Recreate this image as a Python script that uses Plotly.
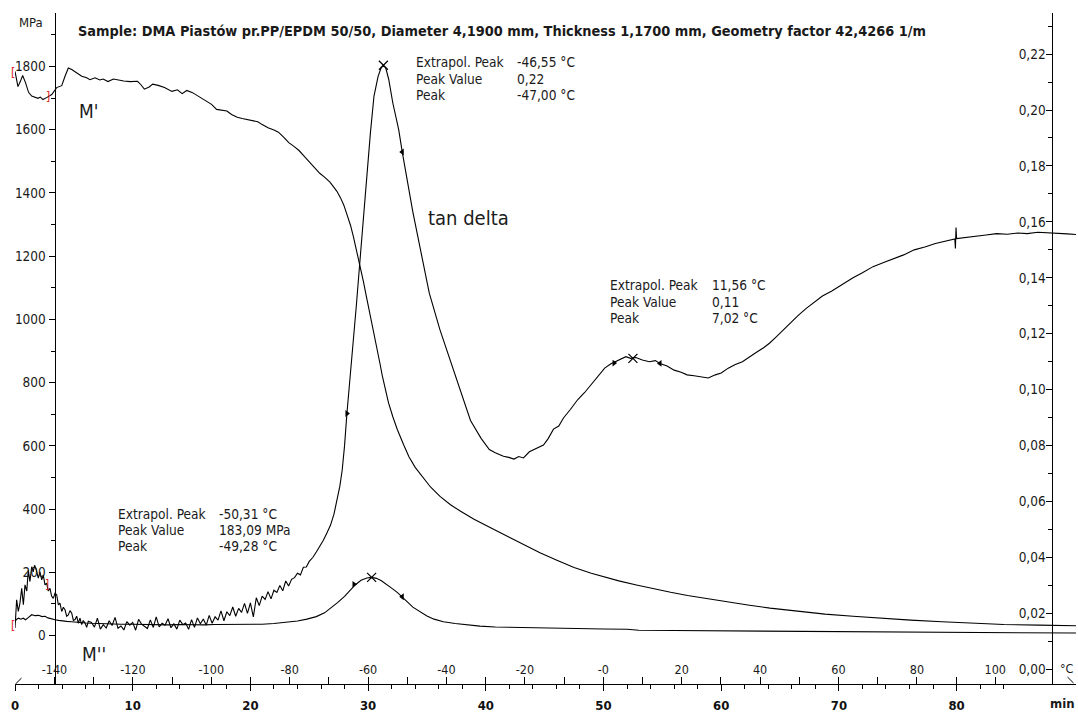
import plotly.graph_objects as go

# ---------------- data ----------------
title_text = ("Sample: DMA Piastów pr.PP/EPDM 50/50, Diameter 4,1900 mm, "
              "Thickness 1,1700 mm, Geometry factor 42,4266 1/m")

# time axis (min)
time_ticks = [0, 10, 20, 30, 40, 50, 60, 70, 80]
time_minor = list(range(0, 89, 2))
# temperature axis (°C)
temp_tickvals = list(range(-140, 101, 10))
temp_ticktext = ["-140", "", "-120", "", "-100", "", "-80", "", "-60", "", "-40", "",
                 "-20", "", "-0", "", "20", "", "40", "", "60", "", "80", "", "100"]
# left axis (MPa)
mpa_ticks = [0, 200, 400, 600, 800, 1000, 1200, 1400, 1600, 1800]
# right axis (tan delta)
tan_ticks = [0.00, 0.02, 0.04, 0.06, 0.08, 0.10, 0.12, 0.14, 0.16, 0.18, 0.20, 0.22]
tan_ticktext = ["0,00", "0,02", "0,04", "0,06", "0,08", "0,10", "0,12", "0,14",
                "0,16", "0,18", "0,20", "0,22"]

# M' (storage modulus, MPa) vs time (min)
t_mp = [0, 0.25, 0.45, 0.65, 0.9, 1.15, 1.42, 1.7, 1.95, 2.15, 2.38, 2.72, 3.12, 3.54,
        3.97, 4.25, 4.53, 4.82, 5.24, 5.67, 6.09, 6.37, 6.8, 7.2, 7.49, 7.9, 8.36, 8.8,
        9.24, 9.8, 10.41, 10.7, 10.99, 11.4, 11.7, 12.16, 12.7, 13.33, 13.8, 14.2, 14.6,
        15.08, 15.6, 16.25, 16.7, 17.13, 17.6, 18.0, 18.4, 18.88, 19.3, 19.75, 20.2,
        20.63, 21.0, 21.5, 22.0, 22.38, 22.8, 23.26, 23.7, 24.13, 24.6, 25.0, 25.45,
        25.89, 26.3, 26.76, 27.05, 27.35, 27.65, 27.93, 28.2, 28.51, 28.75, 28.98, 29.2,
        29.39, 29.6, 29.8, 30.05, 30.27, 30.5, 30.74, 31.0, 31.2, 31.45, 31.73, 32.1,
        32.49, 33.0, 33.48, 34.0, 34.65, 35.3, 36.11, 37.0, 37.86, 39.0, 40.2, 41.6,
        43.12, 44.6, 46.04, 47.5, 48.96, 50.1, 51.3, 52.8, 54.22, 55.7, 57.14, 58.9,
        60.65, 62.4, 64.15, 66.5, 68.82, 71.2, 73.5, 76.1, 78.75, 81.4, 84.01, 87.0, 90.14]
mp = [1784, 1736, 1752, 1771, 1748, 1718, 1706, 1702, 1699, 1703, 1695, 1702, 1711, 1733,
      1739, 1769, 1795, 1790, 1781, 1769, 1764, 1758, 1764, 1757, 1760, 1752, 1760, 1756,
      1754, 1752, 1753, 1742, 1728, 1735, 1744, 1740, 1733, 1721, 1726, 1714, 1724,
      1717, 1705, 1692, 1680, 1664, 1662, 1659, 1648, 1639, 1635, 1631, 1628,
      1625, 1616, 1606, 1599, 1592, 1577, 1559, 1547, 1534, 1515, 1498, 1480,
      1462, 1450, 1434, 1420, 1405, 1385, 1362, 1332, 1297, 1262, 1225, 1190,
      1160, 1120, 1082, 1038, 996, 952, 909, 862, 823, 780, 737, 692,
      651, 605, 565, 532, 500, 470, 440, 414, 393, 368, 345, 318,
      290, 262, 238, 215, 197, 185, 173, 160, 148, 137, 127, 116,
      106, 96, 87, 77, 68, 61, 55, 49, 44, 39, 35, 33, 31]

# M'' (loss modulus, MPa) vs time (min)
t_mpp = [0, 0.15, 0.3, 0.5, 0.7, 0.9, 1.1, 1.42, 1.7, 2.0, 2.3, 2.55, 2.8, 3.1, 3.4, 3.7,
         4.0, 4.4, 4.8, 5.2, 5.6, 6.0, 6.5, 7.0, 8, 9, 10, 11, 12, 13, 14, 15, 16, 17,
         18, 19, 20, 21, 22, 23, 24, 24.8, 25.6, 26.3, 26.8, 27.4, 28.0, 28.5, 28.9,
         29.4, 29.9, 30.3, 30.7, 31.1, 31.6, 32.0, 32.5, 32.96, 33.4, 33.8, 34.4, 35.0,
         35.6, 36.4, 37.4, 38.4, 39.5, 40.8, 42, 44, 46, 48, 50, 52, 53, 56, 60, 63, 66,
         70, 75, 79, 80, 85, 90.14]
mpp = [45, 52, 55, 52, 55, 50, 56, 66, 63, 64, 60, 61, 56, 52, 50, 48,
       46, 45, 44, 42, 41, 40, 39, 38, 37, 36, 36, 35, 35, 34, 35, 34, 34, 35,
       35, 36, 36, 36, 38, 41, 46, 52, 60, 72, 86, 104, 124, 145, 160,
       175, 182, 184, 181, 174, 162, 150, 136, 121, 104, 90, 76, 62,
       52, 44, 38, 34, 30, 27, 26, 24, 23, 22, 21, 20, 17, 16, 15, 14, 13,
       12, 11, 10, 9, 9, 8]

# tan delta vs time (min)
t_tan = [0, 0.14, 0.28, 0.42, 0.57, 0.71, 0.85, 1.0, 1.13, 1.27, 1.42, 1.55, 1.66, 1.78,
         1.98, 2.12, 2.27, 2.40, 2.55, 2.69, 2.83, 2.97, 3.11, 3.25, 3.40, 3.54, 3.68,
         3.82, 3.97, 4.11, 4.25, 4.39, 4.53, 4.67, 4.82, 4.96, 5.10, 5.24, 5.38, 5.52,
         5.66, 5.80, 5.95, 6.09, 6.23,
         6.5, 6.75, 7.0, 7.25, 7.5, 7.75, 8.0, 8.25, 8.5, 8.75, 9.0, 9.25, 9.5, 9.75,
         10.0, 10.25, 10.5, 10.75, 11.0, 11.25, 11.5, 11.75, 12.0, 12.25, 12.5, 12.75,
         13.0, 13.25, 13.5, 13.75, 14.0, 14.25, 14.5, 14.75, 15.0, 15.25, 15.5, 15.75,
         16.0, 16.25, 16.5, 16.75, 17.0, 17.25, 17.5, 17.75, 18.0, 18.25, 18.5, 18.75,
         19.0, 19.25, 19.5, 19.75, 20.0, 20.25, 20.5, 20.75, 21.0, 21.25, 21.5, 21.75,
         22.0, 22.25, 22.5, 22.75, 23.0, 23.25, 23.5, 23.75, 24.0, 24.25, 24.5, 24.75,
         25.0, 25.3, 25.6, 25.9, 26.2, 26.5, 26.8, 27.1, 27.35, 27.6, 27.8, 28.0, 28.2,
         28.4, 28.6, 28.8, 29.0, 29.2, 29.4, 29.6, 29.8, 30.0, 30.2, 30.5, 30.85, 31.1,
         31.3, 31.5, 31.75, 32.1, 32.6, 32.9, 33.3, 33.8, 34.5, 35.2, 36.1, 37.0, 37.9,
         38.7, 39.6, 40.3, 40.8, 41.1, 41.5, 41.95, 42.4, 42.8, 43.2, 43.7, 44.3, 44.9,
         45.3, 45.75, 46.2, 46.6, 47.2, 47.8, 48.4, 48.96, 49.5, 50.1, 50.6, 51.0, 51.5,
         51.9, 52.3, 52.75, 53.3, 53.9, 54.4, 54.8, 55.4, 56.0, 56.6, 57.1, 57.7, 58.3,
         58.9, 59.5, 60.0, 60.6, 61.2, 61.8, 62.4, 63.0, 63.6, 64.1, 64.7, 65.3, 65.9,
         66.5, 67.2, 67.9, 68.6, 69.4, 70.3, 71.2, 72.0, 72.9, 73.8, 74.7, 75.5, 76.4,
         77.3, 78.2, 79.0, 79.85, 79.9, 79.95, 80.0, 80.8, 81.7, 82.5, 83.4, 84.3, 85.2,
         86.0, 86.9, 87.8, 88.7, 89.4, 90.14]
tan = [0.0148, 0.0249, 0.0207, 0.0237, 0.0290, 0.0231, 0.0302, 0.0280, 0.0355, 0.0314,
       0.0367, 0.0349, 0.0372, 0.0361, 0.0326, 0.0349, 0.0320, 0.0338, 0.0302, 0.0308,
       0.0280, 0.0290, 0.0262, 0.0254, 0.0272, 0.0267, 0.0231, 0.0237, 0.0207, 0.0222,
       0.0213, 0.0190, 0.0195, 0.0210, 0.0201, 0.0175, 0.0178, 0.0190, 0.0165, 0.0183,
       0.0160, 0.0175, 0.0166, 0.0150, 0.0172,
       0.0168, 0.0151, 0.0183, 0.0144, 0.0160, 0.0148, 0.0174, 0.0157, 0.0186, 0.0147,
       0.0155, 0.0141, 0.0171, 0.0158, 0.0168, 0.0140, 0.0179, 0.0162, 0.0154, 0.0146,
       0.0177, 0.0150, 0.0188, 0.0152, 0.0165, 0.0158, 0.0181, 0.0149, 0.0163, 0.0144,
       0.0176, 0.0160, 0.0166, 0.0143, 0.0178, 0.0150, 0.0184, 0.0163, 0.0180, 0.0158,
       0.0193, 0.0165, 0.0188, 0.0176, 0.0209, 0.0174, 0.0206, 0.0192, 0.0223, 0.0190,
       0.0218, 0.0204, 0.0236, 0.0200, 0.0238, 0.0188, 0.0256, 0.0228, 0.0262, 0.0250,
       0.0278, 0.0252, 0.0283, 0.0275, 0.0300, 0.0281, 0.0316, 0.0298, 0.0322, 0.0328,
       0.0344, 0.0338, 0.0365, 0.0366,
       0.0386, 0.0400, 0.0420, 0.0440, 0.0462, 0.0488, 0.0515, 0.0555, 0.0600, 0.0655,
       0.0713, 0.0800, 0.0915, 0.1005, 0.1100, 0.1200, 0.1300, 0.1405, 0.1510, 0.1610,
       0.1710, 0.1815, 0.1920, 0.2050, 0.2120, 0.2150, 0.2160, 0.2150, 0.2110, 0.2025,
       0.1930, 0.1850, 0.1750, 0.1636, 0.1490, 0.1345, 0.1215, 0.1100, 0.0988, 0.0890,
       0.0826, 0.0786, 0.0775, 0.0770, 0.0762, 0.0758, 0.0752, 0.0761, 0.0756, 0.0778,
       0.0790, 0.0802, 0.0825, 0.0859, 0.0870, 0.0899, 0.0930, 0.0964, 0.0990, 0.1020,
       0.1045, 0.1077, 0.1092, 0.1100, 0.1110, 0.1118, 0.1112, 0.1115, 0.1106, 0.1100,
       0.1104, 0.1094, 0.1085, 0.1070, 0.1062, 0.1053, 0.1050, 0.1045, 0.1042, 0.1053,
       0.1060, 0.1077, 0.1090, 0.1100, 0.1118, 0.1134, 0.1150, 0.1166, 0.1190, 0.1215,
       0.1240, 0.1264, 0.1290, 0.1312, 0.1335, 0.1353, 0.1378, 0.1400, 0.1418, 0.1440,
       0.1455, 0.1470, 0.1482, 0.1500, 0.1510, 0.1523, 0.1530, 0.1539, 0.1505, 0.1580,
       0.1540, 0.1545, 0.1550, 0.1553, 0.1558, 0.1556, 0.1560, 0.1558, 0.1563, 0.1560,
       0.1558, 0.1557, 0.1555]

# evaluation marks
tan_peak = ([31.3, 52.5], [0.2160, 0.1112])
mpp_peak = ([30.3], [184])
tan_bounds_l = ([28.2, 50.9], [0.0915, 0.1095])
tan_bounds_r = ([32.9, 54.8], [0.1850, 0.1094])
mpp_bounds_l = ([28.8], [162])
mpp_bounds_r = ([32.9], [123])

peak_labels = ["Extrapol. Peak", "Peak Value", "Peak"]
tan_peak_vals = ["-46,55 °C", "0,22", "-47,00 °C"]
hump_vals = ["11,56 °C", "0,11", "7,02 °C"]
mpp_vals = ["-50,31 °C", "183,09 MPa", "-49,28 °C"]

# ---------------- layout geometry ----------------
W, H = 1078, 715
ML, MR, MT, MB = 15, 2, 13, 27
PW, PH = W - ML - MR, H - MT - MB
FONT = "DejaVu Sans Condensed, DejaVu Sans, sans-serif"


def px_x(px):          # page pixel -> paper x
    return (px - ML) / PW


def px_y(py):          # page pixel -> paper y
    return (H - MB - py) / PH


fig = go.Figure()
line = dict(color="black", width=1.1)
fig.add_trace(go.Scatter(x=t_mp, y=mp, mode="lines", line=line, xaxis="x", yaxis="y",
                         showlegend=False))
fig.add_trace(go.Scatter(x=t_mpp, y=mpp, mode="lines", line=line, xaxis="x", yaxis="y",
                         showlegend=False))
fig.add_trace(go.Scatter(x=t_tan, y=tan, mode="lines", line=line, xaxis="x", yaxis="y2",
                         showlegend=False))

xm = dict(symbol="x-thin", size=9, line=dict(color="black", width=1.2), color="black")
fig.add_trace(go.Scatter(x=tan_peak[0], y=tan_peak[1], mode="markers", marker=xm,
                         yaxis="y2", showlegend=False))
fig.add_trace(go.Scatter(x=mpp_peak[0], y=mpp_peak[1], mode="markers", marker=xm,
                         yaxis="y", showlegend=False))
tr_r = dict(symbol="triangle-right", size=6, color="black")
tr_l = dict(symbol="triangle-left", size=6, color="black")
fig.add_trace(go.Scatter(x=tan_bounds_l[0], y=tan_bounds_l[1], mode="markers", marker=tr_r,
                         yaxis="y2", showlegend=False))
fig.add_trace(go.Scatter(x=tan_bounds_r[0], y=tan_bounds_r[1], mode="markers", marker=tr_l,
                         yaxis="y2", showlegend=False))
fig.add_trace(go.Scatter(x=mpp_bounds_l[0], y=mpp_bounds_l[1], mode="markers", marker=tr_r,
                         yaxis="y", showlegend=False))
fig.add_trace(go.Scatter(x=mpp_bounds_r[0], y=mpp_bounds_r[1], mode="markers", marker=tr_l,
                         yaxis="y", showlegend=False))

t_range = [0, PW / 11.77]
temp_range = [-140 - (54.5 - ML) / 3.92, -140 + (W - MR - 54.5) / 3.92]
mpa_range = [-(H - MB - 639.3) / 0.3181, (639.3 - MT) / 0.3181]
tan_range = [-(H - MB - 673.3) / 2813.6, (673.3 - MT) / 2813.6]

# empty carrier trace so the temperature axis is drawn
fig.add_trace(go.Scatter(x=temp_range, y=[None, None], mode="lines", xaxis="x2", yaxis="y",
                         showlegend=False, hoverinfo="skip"))

tickfont = dict(family=FONT, size=13.5, color="#1a1a1a")

fig.update_layout(
    width=W, height=H,
    margin=dict(l=ML, r=MR, t=MT, b=MB, pad=0),
    paper_bgcolor="white", plot_bgcolor="white",
    font=dict(family=FONT, color="#1a1a1a"),
    hovermode=False,
    xaxis=dict(range=t_range, domain=[0, 1], anchor="y", showline=True, linecolor="black",
               linewidth=1, ticks="outside", ticklen=6, tickcolor="black", tickwidth=1,
               tickmode="array", tickvals=time_ticks, ticktext=[str(v) for v in time_ticks],
               tickfont=dict(family=FONT, size=13, color="#111", weight="bold"),
               ticklabelstandoff=3,
               minor=dict(tickmode="array", tickvals=time_minor, ticks="outside", ticklen=4,
                          tickcolor="black", tickwidth=1),
               showgrid=False, zeroline=False),
    xaxis2=dict(range=temp_range, overlaying="x", anchor="y", side="bottom", showline=False,
                ticks="inside", ticklen=7, tickcolor="black", tickwidth=1,
                tickmode="array", tickvals=temp_tickvals, ticktext=temp_ticktext,
                ticklabelposition="inside", tickfont=dict(family=FONT, size=12.5, color="#1a1a1a"),
                showgrid=False, zeroline=False),
    yaxis=dict(range=mpa_range, domain=[0, 1], anchor="free", position=px_x(54.5), side="left",
               showline=True, linecolor="black", linewidth=1, ticks="outside", ticklen=6,
               tickcolor="black", tickmode="array", tickvals=mpa_ticks,
               ticktext=[str(v) for v in mpa_ticks], tickfont=tickfont,
               minor=dict(dtick=100, tick0=0, ticks="outside", ticklen=4, tickcolor="black"),
               showgrid=False, zeroline=False),
    yaxis2=dict(range=tan_range, overlaying="y", anchor="free", position=px_x(1052),
                side="right", showline=True, linecolor="black", linewidth=1, ticks="inside",
                ticklen=6, tickcolor="black", tickmode="array", tickvals=tan_ticks,
                ticktext=tan_ticktext, ticklabelposition="inside", tickfont=tickfont,
                minor=dict(dtick=0.01, tick0=0, ticks="inside", ticklen=4, tickcolor="black"),
                showgrid=False, zeroline=False),
)

ann = []


def text(px, py, s, size=13, xanchor="left", color="#1a1a1a", weight="normal"):
    ann.append(dict(x=px_x(px), y=px_y(py), xref="paper", yref="paper", text=s,
                    showarrow=False, xanchor=xanchor, yanchor="middle",
                    font=dict(family=FONT, size=size, color=color, weight=weight)))


text(76, 31.5, title_text, size=14.4, weight="bold")
text(30.5, 22.7, "MPa", size=13, xanchor="center")
text(77, 112, "M'", size=19)
text(80, 658, "M''", size=19)
text(426, 219, "tan delta", size=20)
text(1067, 672, "°C", size=12.5, xanchor="center")
text(1062, 708, "min", size=13, xanchor="center", weight="bold")

blocks = [((414, 515), (62.7, 79.3, 95.6), tan_peak_vals),
          ((608.5, 710), (287, 303.5, 320), hump_vals),
          ((115.5, 217), (517, 533, 549.5), mpp_vals)]
for (xl, xv), ys, vals in blocks:
    for yy, lab, val in zip(ys, peak_labels, vals):
        text(xl, yy, lab, size=13.6)
        text(xv, yy, val, size=13.6)

# red cursor brackets
for px, py, s in [(12.5, 73, "["), (48, 98, "]"), (12.5, 630, "["), (46.7, 588, "]")]:
    text(px, py, s, size=12, xanchor="center", color="#e0201c")

fig.update_layout(annotations=ann)

# axis end marks
fig.add_shape(type="line", xref="paper", yref="paper", x0=px_x(15.5), y0=px_y(688),
              x1=px_x(21.5), y1=px_y(682), line=dict(color="black", width=1))
fig.add_shape(type="line", xref="paper", yref="paper", x0=px_x(1067.5), y0=px_y(681),
              x1=px_x(1073.5), y1=px_y(687), line=dict(color="black", width=1))

# page body without its default margin, so the figure fills the window exactly
fig.write_html("out.html",
               config={"displayModeBar": False, "staticPlot": True},
               post_script="document.body.style.margin='0';"
                           "document.body.style.overflow='hidden';")
